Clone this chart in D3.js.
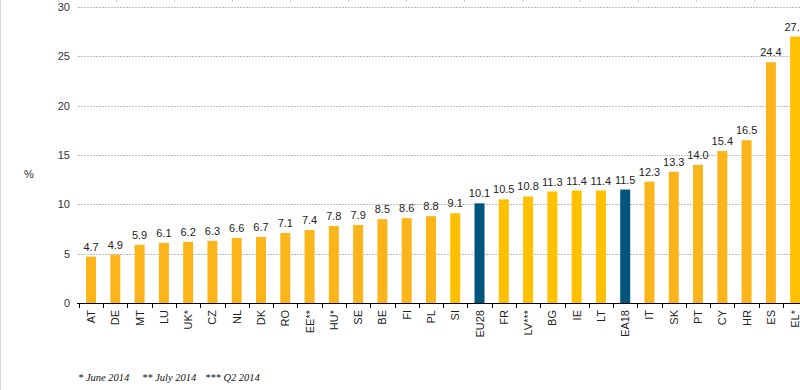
<!DOCTYPE html>
<html>
<head>
<meta charset="utf-8">
<script src="https://cdn.jsdelivr.net/npm/d3@7"></script>
<style>
  html, body { margin: 0; padding: 0; background: #fff; }
  svg { display: block; }
</style>
</head>
<body>
<svg id="chart" width="800" height="390"></svg>
<script>
const categories = ["AT","DE","MT","LU","UK*","CZ","NL","DK","RO","EE**","HU*","SE","BE","FI","PL","SI","EU28","FR","LV***","BG","IE","LT","EA18","IT","SK","PT","CY","HR","ES","EL*"];
const values = [4.7,4.9,5.9,6.1,6.2,6.3,6.6,6.7,7.1,7.4,7.8,7.9,8.5,8.6,8.8,9.1,10.1,10.5,10.8,11.3,11.4,11.4,11.5,12.3,13.3,14.0,15.4,16.5,24.4,27.0];
// colour group per category: "o" = orange, "y" = yellow, "b" = aggregate (blue)
const groups = ["o","o","o","o","o","o","o","o","o","o","o","o","o","o","o","y","b","y","y","y","y","y","b","o","o","o","o","o","o","y"];
const yTicks = [0,5,10,15,20,25,30];
const footnotes = ["* June 2014","** July 2014","*** Q2 2014"];
const yLabel = "%";

const colors = { o: "#FBB51B", y: "#FFC000", b: "#00557F" };

const svg = d3.select("#chart");
const data = categories.map((c, i) => ({ cat: c, val: values[i], grp: groups[i] }));

const x0 = 78.9, step = 24.28;
const x = d3.scaleBand().domain(categories).range([x0, x0 + step * categories.length]).padding(0);
const y = d3.scaleLinear().domain([0, 30]).range([303, 7]);

// left border line
svg.append("line").attr("x1", 0.5).attr("x2", 0.5).attr("y1", 0).attr("y2", 390)
  .attr("stroke", "#d9d9d9").attr("stroke-width", 1);

// faint top marks
d3.range(58, 800, 58).forEach(t => {
  svg.append("line").attr("x1", t + 0.5).attr("x2", t + 0.5).attr("y1", 0).attr("y2", 2)
    .attr("stroke", "#cfcfcf");
});

// gridlines
svg.append("g").selectAll("line").data(yTicks.filter(t => t > 0)).join("line")
  .attr("x1", 78).attr("x2", 800)
  .attr("y1", d => Math.round(y(d)) + 0.5).attr("y2", d => Math.round(y(d)) + 0.5)
  .attr("stroke", "#bdbdbd").attr("stroke-dasharray", "2,1").attr("stroke-width", 1);

// y tick labels
svg.append("g").selectAll("text").data(yTicks).join("text")
  .attr("x", 70).attr("y", d => y(d) + 4)
  .attr("text-anchor", "end")
  .attr("font-family", "Arial, 'Liberation Sans', sans-serif")
  .attr("font-size", 11).attr("fill", "#333")
  .text(d => d);

svg.append("text").attr("x", 29).attr("y", 178).attr("text-anchor", "middle")
  .attr("font-family", "Arial, 'Liberation Sans', sans-serif")
  .attr("font-size", 11).attr("fill", "#333").text(yLabel);

// bars
const barW = 10;
svg.append("g").selectAll("rect").data(data).join("rect")
  .attr("x", d => x(d.cat) + x.bandwidth() / 2 - barW / 2)
  .attr("y", d => y(d.val))
  .attr("width", barW)
  .attr("height", d => y(0) - y(d.val))
  .attr("fill", d => colors[d.grp]);

// value labels
svg.append("g").selectAll("text").data(data).join("text")
  .attr("x", d => x(d.cat) + x.bandwidth() / 2)
  .attr("y", d => y(d.val) - 6)
  .attr("text-anchor", "middle")
  .attr("font-family", "Arial, 'Liberation Sans', sans-serif")
  .attr("font-size", 11).attr("fill", "#222")
  .text(d => d.val.toFixed(1));

// x axis
const xAxis = d3.axisBottom(x).tickSize(0).tickFormat("");
const gx = svg.append("g").attr("transform", "translate(0,303)").call(xAxis);
gx.select(".domain").remove();
svg.append("line").attr("x1", 77).attr("x2", 800).attr("y1", 303.5).attr("y2", 303.5)
  .attr("stroke", "#000").attr("stroke-width", 1.2);
// category separator ticks
svg.append("g").selectAll("line").data(categories).join("line")
  .attr("x1", d => Math.round(x(d)) + 0.5).attr("x2", d => Math.round(x(d)) + 0.5)
  .attr("y1", 303).attr("y2", 308)
  .attr("stroke", "#000").attr("stroke-width", 1);

// category labels (rotated)
svg.append("g").selectAll("text").data(data).join("text")
  .attr("transform", d => `translate(${x(d.cat) + x.bandwidth() / 2 + 4},310) rotate(-90)`)
  .attr("text-anchor", "end")
  .attr("font-family", "Arial, 'Liberation Sans', sans-serif")
  .attr("font-size", 11).attr("fill", "#222")
  .text(d => d.cat);

// footnotes
const fx = [78, 142, 205];
svg.append("g").selectAll("text").data(footnotes).join("text")
  .attr("x", (d, i) => fx[i]).attr("y", 381)
  .attr("font-family", "'Liberation Serif', 'Times New Roman', serif")
  .attr("font-style", "italic")
  .attr("font-size", 10.5).attr("fill", "#111")
  .text(d => d);
</script>
</body>
</html>
